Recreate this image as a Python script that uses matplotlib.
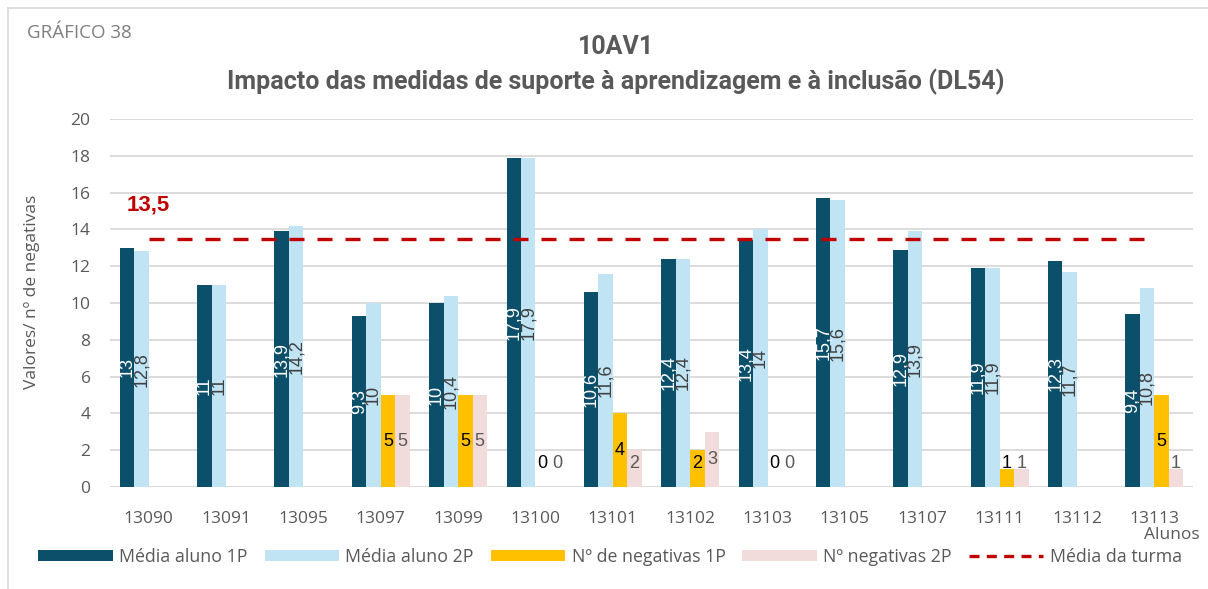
import numpy as np
import matplotlib
matplotlib.use("Agg")
import matplotlib.pyplot as plt
from matplotlib.lines import Line2D
from matplotlib.patches import Patch

categories = ["13090", "13091", "13095", "13097", "13099", "13100", "13101",
              "13102", "13103", "13105", "13107", "13111", "13112", "13113"]
media_1p = [13, 11, 13.9, 9.3, 10, 17.9, 10.6, 12.4, 13.4, 15.7, 12.9, 11.9, 12.3, 9.4]
media_2p = [12.8, 11, 14.2, 10, 10.4, 17.9, 11.6, 12.4, 14, 15.6, 13.9, 11.9, 11.7, 10.8]
neg_1p = [np.nan, np.nan, np.nan, 5, 5, 0, 4, 2, 0, np.nan, np.nan, 1, np.nan, 5]
neg_2p = [np.nan, np.nan, np.nan, 5, 5, 0, 2, 3, 0, np.nan, np.nan, 1, np.nan, 1]
media_turma = [13.5] * len(categories)

plt.rcParams['font.family'] = ['Open Sans', 'DejaVu Sans']

W, H = 1208, 589
fig = plt.figure(figsize=(W / 100, H / 100), dpi=100)
ax = fig.add_axes([110 / W, 1 - 487 / H, (1193 - 110) / W, (487 - 119) / H])

x = np.arange(len(categories))
w = 0.187
c_dark, c_light, c_yel, c_pink = "#0B4F6A", "#C1E4F5", "#FFC000", "#F2DCDB"
gray = "#595959"

series = [
    (media_1p, c_dark, "Média aluno 1P", "white", 90),
    (media_2p, c_light, "Média aluno 2P", "#404040", 90),
    (neg_1p, c_yel, "Nº de negativas 1P", "black", 0),
    (neg_2p, c_pink, "Nº negativas 2P", "#595959", 0),
]

def fmt(v):
    s = f"{v:.1f}"
    if s.endswith(".0"):
        s = s[:-2]
    return s.replace(".", ",")

leg_handles, leg_labels = [], []
for i, (vals, col, lab, tcol, rot) in enumerate(series):
    off = (i - 1.5) * w
    arr = np.array(vals, dtype=float)
    mask = ~np.isnan(arr)
    ax.bar(x[mask] + off, arr[mask], width=w, color=col, zorder=3)
    leg_handles.append(Patch(facecolor=col, edgecolor="none"))
    leg_labels.append(lab)
    for xi, v in zip(x[mask], arr[mask]):
        if rot == 90:
            ax.text(xi + off, v / 2, fmt(v), rotation=90, ha="center", va="center",
                    color=tcol, fontsize=13, zorder=5, family=['Liberation Sans', 'DejaVu Sans'])
        else:
            ax.text(xi + off, max(v / 2, 1.3), fmt(v), ha="center", va="center",
                    color=tcol, fontsize=13, zorder=5, family=['Liberation Sans', 'DejaVu Sans'])

ax.plot(x, media_turma, color="#C00000", lw=2.4, dashes=(4.5, 3.9), zorder=4)
leg_handles.append(Line2D([0], [0], color="#C00000", lw=2.4, dashes=(3.0, 2.2)))
leg_labels.append("Média da turma")
ax.annotate(fmt(media_turma[0]), (x[0], media_turma[0]), xytext=(0, 24),
            textcoords="offset points", ha="center", va="center", color="#C00000",
            fontsize=16, fontweight="bold", family=['Liberation Sans', 'DejaVu Sans'])

ax.set_xlim(-0.5, len(categories) - 0.5)
ax.set_ylim(0, 20)
ax.set_yticks(np.arange(0, 21, 2))
ax.set_xticks(x)
ax.set_xticklabels(categories)
ax.tick_params(axis="both", length=0, labelsize=12.5, colors=gray)
ax.tick_params(axis="x", pad=17)
ax.tick_params(axis="y", pad=14)
ax.grid(axis="y", color="#D9D9D9", lw=1.3, zorder=0)
ax.set_axisbelow(True)
for s in ax.spines.values():
    s.set_visible(False)
ax.axhline(0, color="#D9D9D9", lw=1.5, zorder=2)

fig.text(32 / W, 1 - 292 / H, "Valores/ nº de negativas", rotation=90, ha="center",
         va="center", fontsize=12.5, color=gray)
fig.text(1200 / W, 1 - 535 / H, "Alunos", ha="right", va="center", fontsize=12.5, color=gray)

fig.text(27 / W, 1 - 33 / H, "GRÁFICO 38", ha="left", va="center", fontsize=13.5, color="#7F7F7F")
fig.text(616 / W, 1 - 47 / H, "10AV1", ha="center", va="center", fontsize=18,
         fontweight="bold", color=gray, family=['Roboto', 'DejaVu Sans'])
fig.text(616 / W, 1 - 82 / H, "Impacto das medidas de suporte à aprendizagem e à inclusão (DL54)",
         ha="center", va="center", fontsize=18, fontweight="bold", color=gray,
         family=['Roboto', 'DejaVu Sans'])

fig.legend(leg_handles, leg_labels, loc="center",
           bbox_to_anchor=(610 / W, 1 - 557 / H), ncol=5, frameon=False, fontsize=12.8,
           handlelength=4.2, handleheight=0.6, handletextpad=0.35, columnspacing=0.95,
           labelcolor=gray)

# outer chart frame
fig.add_artist(Line2D([8 / W, 8 / W], [0, 1 - 8 / H], color="#D9D9D9", lw=1.2, transform=fig.transFigure))
fig.add_artist(Line2D([8 / W, 1], [1 - 8 / H, 1 - 8 / H], color="#D9D9D9", lw=1.2, transform=fig.transFigure))

fig.savefig("out.png", dpi=100)
